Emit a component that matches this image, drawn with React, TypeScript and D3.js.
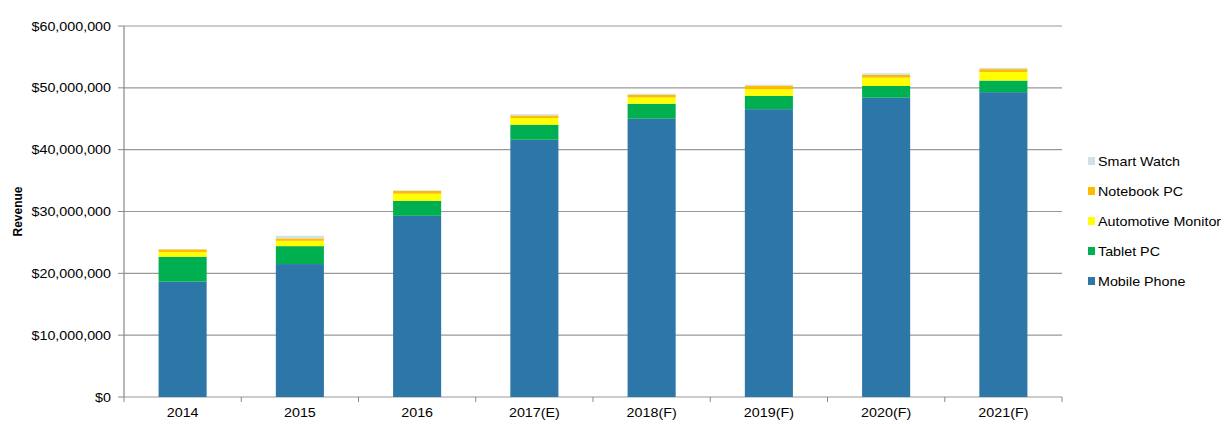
import React from 'react';
import * as d3 from 'd3';

// Revenue by product segment, in dollars
const years = ['2014', '2015', '2016', '2017(E)', '2018(F)', '2019(F)', '2020(F)', '2021(F)'];
const mobilePhone = [18.65e6, 21.5e6, 29.3e6, 41.6e6, 45.0e6, 46.55e6, 48.4e6, 49.3e6];
const tabletPC = [4.03e6, 2.9e6, 2.43e6, 2.43e6, 2.43e6, 2.15e6, 1.9e6, 1.88e6];
const automotiveMonitor = [0.76e6, 0.86e6, 1.15e6, 1.08e6, 1.02e6, 1.08e6, 1.35e6, 1.36e6];
const notebookPC = [0.43e6, 0.39e6, 0.45e6, 0.42e6, 0.44e6, 0.58e6, 0.43e6, 0.49e6];
const smartWatch = [0.05e6, 0.42e6, 0.1e6, 0.22e6, 0.15e6, 0.16e6, 0.27e6, 0.2e6];

const seriesNames = ['Mobile Phone', 'Tablet PC', 'Automotive Monitor', 'Notebook PC', 'Smart Watch'];
const seriesColors = ['#2c77a8', '#00b050', '#ffff00', '#ffbb00', '#cfe2ea'];
const yTicks = [0, 10e6, 20e6, 30e6, 40e6, 50e6, 60e6];

const W = 1226;
const H = 425;
const margin = { left: 124, right: 164, top: 26, bottom: 28 };

// the source renders its text a bit wide, so stretch it horizontally
const StretchText = ({ x, y, anchor = 'start', size = 13, weight = 'normal', children }: any) => (
  <g transform={`translate(${x},${y}) scale(1.1,1)`}>
    <text textAnchor={anchor} fontSize={size} fontWeight={weight} fill="#000">
      {children}
    </text>
  </g>
);

export default function App() {
  const rows = years.map((year, i) => ({
    year,
    'Mobile Phone': mobilePhone[i],
    'Tablet PC': tabletPC[i],
    'Automotive Monitor': automotiveMonitor[i],
    'Notebook PC': notebookPC[i],
    'Smart Watch': smartWatch[i],
  }));

  const stacked = d3.stack<any>().keys(seriesNames)(rows);

  const x = d3
    .scaleBand()
    .domain(years)
    .range([margin.left, W - margin.right])
    .paddingInner(0.59)
    .paddingOuter(0.295);

  const y = d3
    .scaleLinear()
    .domain([0, 60e6])
    .range([H - margin.bottom, margin.top]);

  const fmt = (v: number) => '$' + d3.format(',')(v);
  const font = 'Arial, "Liberation Sans", sans-serif';
  const step = x.step();
  const x0 = margin.left;
  const x1 = W - margin.right;

  return (
    <svg
      width={W}
      height={H}
      style={{ position: 'absolute', left: 0, top: 0, background: '#fff' }}
      fontFamily={font}
    >
      {/* gridlines */}
      {yTicks.map(t => (
        <line key={t} x1={x0} x2={x1} y1={y(t)} y2={y(t)} stroke="#999" strokeWidth={1.2} />
      ))}

      {/* bars */}
      {stacked.map((s, si) => (
        <g key={s.key} fill={seriesColors[si]}>
          {s.map((d, i) => (
            <rect
              key={i}
              x={x(years[i])}
              width={x.bandwidth()}
              y={y(d[1])}
              height={Math.max(0, y(d[0]) - y(d[1]))}
            />
          ))}
        </g>
      ))}

      {/* y axis */}
      <line x1={x0} x2={x0} y1={y(60e6)} y2={y(0)} stroke="#888" strokeWidth={1.2} />
      {yTicks.map(t => (
        <g key={t}>
          <line x1={x0 - 6} x2={x0} y1={y(t)} y2={y(t)} stroke="#888" />
          <StretchText x={x0 - 13} y={y(t) + 4.5} anchor="end">
            {fmt(t)}
          </StretchText>
        </g>
      ))}
      <g transform={`translate(22,${(y(0) + y(60e6)) / 2}) rotate(-90)`}>
        <text textAnchor="middle" fontSize={12} fontWeight="bold">
          Revenue
        </text>
      </g>

      {/* x axis */}
      {d3.range(years.length + 1).map(i => (
        <line
          key={i}
          x1={x0 + i * step}
          x2={x0 + i * step}
          y1={y(0)}
          y2={y(0) + 5}
          stroke="#888"
        />
      ))}
      {years.map(yr => (
        <StretchText key={yr} x={(x(yr) || 0) + x.bandwidth() / 2} y={y(0) + 20} anchor="middle">
          {yr}
        </StretchText>
      ))}

      {/* legend, top to bottom in reverse stack order */}
      {seriesNames
        .slice()
        .reverse()
        .map((name, i) => {
          const color = seriesColors[seriesNames.length - 1 - i];
          const ly = 161 + i * 30;
          return (
            <g key={name}>
              <rect x={1088} y={ly - 4} width={7} height={8} fill={color} />
              <StretchText x={1098} y={ly + 4.5}>
                {name}
              </StretchText>
            </g>
          );
        })}
    </svg>
  );
}
